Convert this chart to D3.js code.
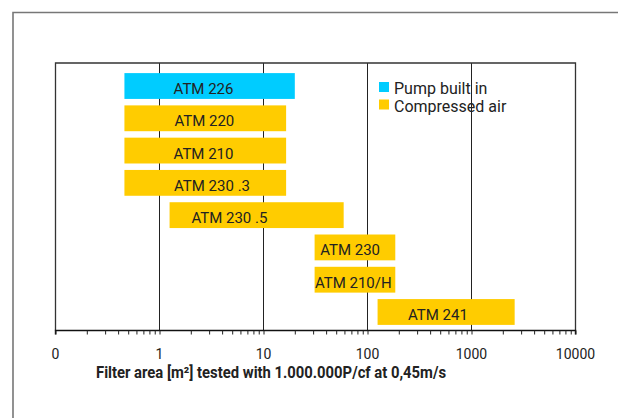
<!DOCTYPE html>
<html><head><meta charset="utf-8">
<script src="https://cdn.jsdelivr.net/npm/d3@7"></script>
<style>body{margin:0;background:#fff}svg{display:block}text{font-family:Roboto,"DejaVu Sans",sans-serif;fill:#222}</style>
</head><body><svg id="c" width="618" height="418"></svg>
<script>
const products   = ["ATM 226","ATM 220","ATM 210","ATM 230 .3","ATM 230 .5","ATM 230","ATM 210/H","ATM 241"];
const areaMin    = [0.46, 0.46, 0.46, 0.46, 1.25, 31, 31, 125];
const areaMax    = [20, 16.5, 16.5, 16.5, 59, 185, 185, 2600];
const drive      = ["Pump built in","Compressed air","Compressed air","Compressed air","Compressed air","Compressed air","Compressed air","Compressed air"];
const labelAt    = [2.65, 2.7, 2.65, 3.2, 4.7, 68, 73, 476];
const legendItems = ["Pump built in","Compressed air"];
const tickValues = [0.1, 1, 10, 100, 1000, 10000];
const tickLabels = ["0","1","10","100","1000","10000"];
const axisTitle  = "Filter area [m²] tested with 1.000.000P/cf at 0,45m/s";

const svg = d3.select("#c");
const colors = d3.scaleOrdinal().domain(legendItems).range(["#00CCFF","#FFCC00"]);
const x = d3.scaleLog().domain([0.1, 10000]).range([55.5, 575.5]);
const y = d3.scaleBand().domain(products).range([66, 332]).paddingInner(0.2).paddingOuter(0.22);
const plotTop = 63, plotBottom = 330.5;

// outer frame
svg.append("path").attr("d", "M13,418V12.5H618").attr("fill","none").attr("stroke","#777").attr("stroke-width",1.6);

// gridlines at decades
svg.append("g").selectAll("line").data(tickValues.slice(1,-1)).join("line")
  .attr("x1", d => x(d)).attr("x2", d => x(d)).attr("y1", plotTop).attr("y2", plotBottom)
  .attr("stroke", "#222").attr("stroke-width", 1);

// bars
const rows = products.map((p,i) => ({p, a:areaMin[i], b:areaMax[i], d:drive[i], l:labelAt[i]}));
svg.append("g").selectAll("rect").data(rows).join("rect")
  .attr("x", d => x(d.a)).attr("width", d => x(d.b) - x(d.a))
  .attr("y", d => y(d.p)).attr("height", y.bandwidth())
  .attr("fill", d => colors(d.d));
svg.append("g").selectAll("text").data(rows).join("text")
  .attr("x", d => x(d.l)).attr("y", d => y(d.p) + y.bandwidth()/2 + 8)
  .attr("text-anchor","middle").attr("font-size", 15).text(d => d.p);

// plot frame
svg.append("path").attr("d", `M${x(0.1)},${plotBottom}V${plotTop}H${x(10000)}V${plotBottom}`)
  .attr("fill","none").attr("stroke","#333").attr("stroke-width",1.3);

// x axis: minor ticks at 2..9 per decade, labels only at decades
const minor = [];
for (let e = -1; e < 4; e++) for (let k = 1; k <= 9; k++) minor.push(k * Math.pow(10, e));
minor.push(10000);
const axis = d3.axisBottom(x).tickValues(minor).tickSize(4).tickFormat(() => "");
const ag = svg.append("g").attr("transform", `translate(0,${plotBottom})`).call(axis);
ag.select(".domain").attr("stroke","#111").attr("stroke-width",1.4).attr("d", `M${x(0.1)},4V0H${x(10000)}V4`);
ag.selectAll(".tick line").attr("stroke","#222");
ag.selectAll(".tick text").remove();
svg.append("g").selectAll("text").data(tickValues).join("text")
  .attr("x", d => x(d)).attr("y", 358.5).attr("text-anchor","middle")
  .attr("font-size", 14).attr("fill", "#333").text((d,i) => tickLabels[i]);

// axis title
svg.append("text").attr("x", 271).attr("y", 377.5).attr("text-anchor","middle")
  .attr("font-size", 16).attr("font-weight","bold").attr("fill","#111")
  .attr("textLength", 350).attr("lengthAdjust","spacingAndGlyphs").text(axisTitle);

// legend
const lg = svg.append("g").attr("transform","translate(379,82)");
const li = lg.selectAll("g").data(legendItems).join("g").attr("transform",(d,i)=>`translate(0,${i*17.5})`);
li.append("rect").attr("width",10).attr("height",10).attr("fill", d => colors(d));
li.append("text").attr("x",15).attr("y",12).attr("font-size",16).text(d => d);
</script></body></html>
